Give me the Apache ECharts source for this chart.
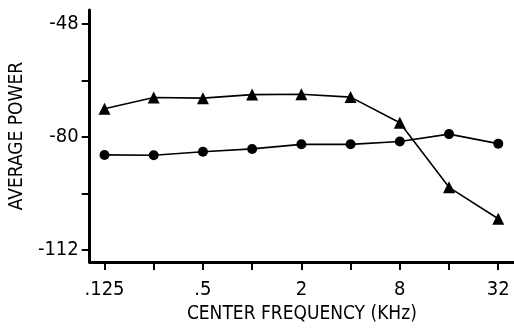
<!DOCTYPE html>
<html>
<head>
<meta charset="utf-8">
<script src="https://cdn.jsdelivr.net/npm/echarts@6/dist/echarts.min.js"></script>
<style>html,body{margin:0;padding:0;background:#fff}#c{width:514px;height:329px}</style>
</head>
<body>
<div id="c"></div>
<script>
// Data
var frequencies = [0.125, 0.25, 0.5, 1, 2, 4, 8, 16, 32];
var triangleSeries = [-72, -68.8, -69, -68, -67.9, -68.7, -76, -94.3, -103.2];
var circleSeries = [-85.1, -85.2, -84.2, -83.4, -82.1, -82.1, -81.3, -79.2, -81.9];
var xTickLabels = ['.125', '.5', '2', '8', '32'];
var xLabelFreqs = [0.125, 0.5, 2, 8, 32];
var yTickLabels = [-112, -80, -48];
var yMinorTicks = [-112, -96, -80, -64, -48];

var FONT = '"Liberation Sans Narrow", "DejaVu Sans Condensed", "Liberation Sans", Arial, sans-serif';
var log2 = function (v) { return Math.log(v) / Math.LN2; };
var xTickVals = frequencies.map(log2);
var xLabelVals = xLabelFreqs.map(log2);
var labelMap = {};
xLabelVals.forEach(function (v, i) { labelMap[Math.round(v)] = xTickLabels[i]; });

function pairs(vals) {
  return frequencies.map(function (f, i) { return [log2(f), vals[i]]; });
}

var chart = echarts.init(document.getElementById('c'), null, {renderer: 'canvas'});
chart.setOption({
  animation: false,
  backgroundColor: '#fff',
  grid: {left: 83, right: 0, top: 10, bottom: 54, containLabel: false},
  xAxis: {
    type: 'value', min: -3.3, max: 5.32,
    name: 'CENTER FREQUENCY (KHz)', nameLocation: 'middle', nameGap: 35,
    nameTextStyle: {fontFamily: FONT, fontSize: 19, color: '#000'},
    axisLine: {show: true, onZero: false, lineStyle: {color: '#000', width: 3}},
    axisTick: {show: true, length: 8, customValues: xTickVals, lineStyle: {color: '#000', width: 2}},
    axisLabel: {customValues: xLabelVals, margin: 18, fontFamily: FONT, fontSize: 20, color: '#000',
      formatter: function (v) { return labelMap[Math.round(v)] || ''; }},
    splitLine: {show: false}
  },
  yAxis: {
    type: 'value', min: -115.5, max: -44,
    name: 'AVERAGE POWER', nameLocation: 'middle', nameGap: 60, nameRotate: 90,
    nameTextStyle: {fontFamily: FONT, fontSize: 19, color: '#000'},
    axisLine: {show: true, onZero: false, lineStyle: {color: '#000', width: 3}},
    axisTick: {show: true, length: 8, customValues: yMinorTicks, lineStyle: {color: '#000', width: 2}},
    axisLabel: {customValues: yTickLabels, margin: 11, fontFamily: FONT, fontSize: 20, color: '#000',
      padding: [6, 0, 0, 0],
      formatter: function (v) { return String(v); }},
    splitLine: {show: false}
  },
  series: [
    {type: 'line', data: pairs(triangleSeries), symbol: 'triangle', symbolSize: 12,
      lineStyle: {color: '#000', width: 1.6}, itemStyle: {color: '#000'}},
    {type: 'line', data: pairs(circleSeries), symbol: 'circle', symbolSize: 10,
      lineStyle: {color: '#000', width: 1.6}, itemStyle: {color: '#000'}}
  ]
});
</script>
</body>
</html>
